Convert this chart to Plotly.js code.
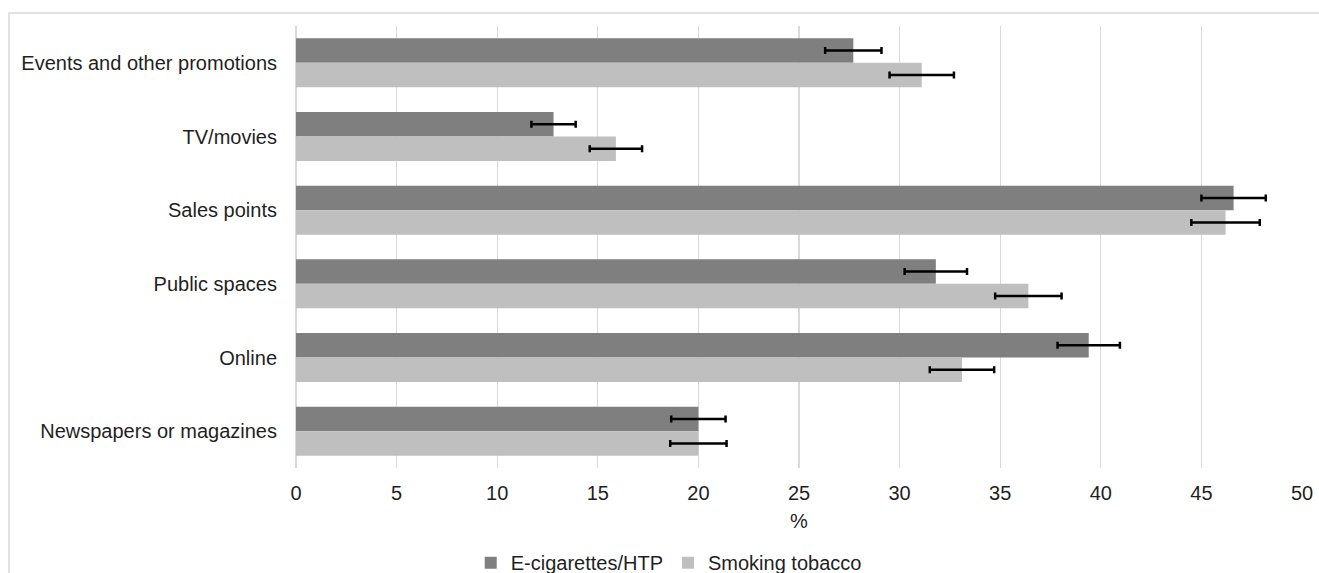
<!DOCTYPE html>
<html>
<head>
<meta charset="utf-8">
<script src="https://cdn.plot.ly/plotly-3.0.1.min.js"></script>
<style>html,body{margin:0;padding:0;background:#fff;}#chart{width:1319px;height:573px;}</style>
</head>
<body>
<div id="chart"></div>
<script>
const categories = ["Events and other promotions", "TV/movies", "Sales points", "Public spaces", "Online", "Newspapers or magazines"];
const ecigValues = [27.7, 12.8, 46.6, 31.8, 39.4, 20.0];
const ecigErrors = [1.4, 1.1, 1.6, 1.55, 1.55, 1.35];
const smokingValues = [31.1, 15.9, 46.2, 36.4, 33.1, 20.0];
const smokingErrors = [1.6, 1.3, 1.7, 1.65, 1.6, 1.4];
const xTicks = [0, 5, 10, 15, 20, 25, 30, 35, 40, 45, 50];

const FONT = "Liberation Sans, Arial, sans-serif";
const errStyle = {type: "data", visible: true, color: "#000000", thickness: 2.5, width: 3.5};

const traces = [
  {type: "bar", orientation: "h", name: "E-cigarettes/HTP", y: categories, x: ecigValues,
   marker: {color: "#7f7f7f"}, error_x: Object.assign({array: ecigErrors}, errStyle), hoverinfo: "x+name"},
  {type: "bar", orientation: "h", name: "Smoking tobacco", y: categories, x: smokingValues,
   marker: {color: "#bfbfbf"}, error_x: Object.assign({array: smokingErrors}, errStyle), hoverinfo: "x+name"}
];

const layout = {
  width: 1319, height: 573,
  margin: {l: 296, r: 17, t: 26, b: 105, pad: 0},
  paper_bgcolor: "#ffffff", plot_bgcolor: "#ffffff",
  font: {family: FONT, size: 20, color: "#1f1f1f"},
  barmode: "group", bargap: 0.335, bargroupgap: 0,
  showlegend: true,
  legend: {orientation: "h", xref: "container", yref: "container", x: 0.507, xanchor: "center", y: 0.018, yanchor: "middle",
           font: {family: FONT, size: 20, color: "#1f1f1f"}, traceorder: "normal", itemwidth: 30},
  xaxis: {range: [0, 50], tickvals: xTicks, ticktext: xTicks.map(String), showgrid: true, gridcolor: "#d9d9d9", gridwidth: 1.3,
          zeroline: true, zerolinecolor: "#d9d9d9", zerolinewidth: 1.3, showline: false, ticks: "", ticklabelstandoff: 11,
          title: {text: "%", font: {family: FONT, size: 20, color: "#1f1f1f"}, standoff: 10}, fixedrange: true},
  yaxis: {type: "category", categoryorder: "array", categoryarray: categories, autorange: "reversed",
          showgrid: false, showline: false, zeroline: false, ticks: "", ticklabelstandoff: 18, fixedrange: true},
  shapes: [{type: "rect", xref: "paper", yref: "paper", x0: (9 - 296) / 1006, x1: 1.05, y0: -0.3, y1: (468 - 13) / 442,
            line: {color: "#d9d9d9", width: 1.5}, fillcolor: "rgba(0,0,0,0)", layer: "below"}]
};

Plotly.newPlot("chart", traces, layout, {displayModeBar: false, staticPlot: true});
</script>
</body>
</html>
